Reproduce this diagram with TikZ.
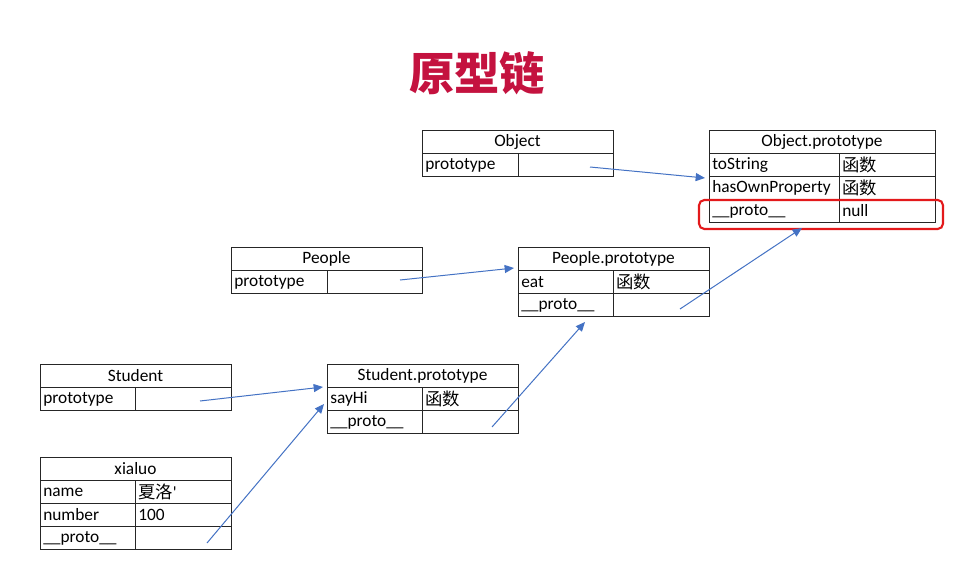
\documentclass[tikz,border=0pt]{standalone}
\usepackage{fontspec}
\setmainfont{Carlito}
\newfontfamily\cjk{Noto Sans CJK SC}
\usepackage{tikz}
\usetikzlibrary{arrows.meta}

\definecolor{titlered}{HTML}{C4123F}
\definecolor{ptrblue}{HTML}{4472C4}
\definecolor{boxred}{HTML}{E3191B}

\begin{document}
\begin{tikzpicture}[x=0.75pt, y=-0.75pt,
    tbl/.style={line width=0.6pt, draw=black!85},
    head/.style={inner sep=0pt, font=\fontsize{13}{15}\selectfont},
    key/.style={anchor=west, inner sep=0pt, font=\fontsize{13}{15}\selectfont},
    ptr/.style={draw=ptrblue, line width=0.75pt, -{Triangle[length=7pt,width=6pt]}}]
  \useasboundingbox[fill=white] (0,0) rectangle (966,560);
  \node[font=\cjk\bfseries\fontsize{34}{40}\selectfont, text=titlered] (title) at (477,73) {原型链};
  % Object
  \draw[tbl] (422,130) rectangle (613,176) (422,153) -- (613,153) (518,153) -- (518,176);
  \node[head] (obj) at (517.5,142) {Object};
  \node[key] (obj-key) at (425,165) {prototype};
  \coordinate (obj-val) at (590,167);
  % Object.prototype
  \draw[tbl] (709,130) rectangle (935,222) (839,153) -- (839,222);
  \foreach \y in {153,176,199} \draw[tbl] (709,\y) -- (935,\y);
  \node[head] (op) at (822,142) {Object.prototype};
  \node[key] (op-k1) at (712,165) {toString};
  \node[key] (op-v1) at (842,165) {\cjk 函数};
  \node[key] (op-k2) at (712,188) {hasOwnProperty};
  \node[key] (op-v2) at (842,188) {\cjk 函数};
  \node[key] (op-k3) at (712,211) {\_\_proto\_\_};
  \node[key] (op-v3) at (842,211) {null};
  \coordinate (op-in) at (705,178);
  \coordinate (op-in2) at (802,228);
  \draw[boxred, line width=1.6pt, rounded corners=4pt] (699,200) rectangle (943,229);
  % People
  \draw[tbl] (231,247) rectangle (422,293) (231,270) -- (422,270) (327,270) -- (327,293);
  \node[head] (peo) at (326.5,259) {People};
  \node[key] (peo-key) at (234,282) {prototype};
  \coordinate (peo-val) at (400,280);
  % People.prototype
  \draw[tbl] (518,247) rectangle (709,316) (613,270) -- (613,316);
  \foreach \y in {270,293} \draw[tbl] (518,\y) -- (709,\y);
  \node[head] (pp) at (613.5,259) {People.prototype};
  \node[key] (pp-k1) at (521,282) {eat};
  \node[key] (pp-v1) at (616,282) {\cjk 函数};
  \node[key] (pp-k2) at (521,305) {\_\_proto\_\_};
  \coordinate (pp-in) at (514,268);
  \coordinate (pp-in2) at (585,322);
  \coordinate (pp-proto) at (680,309);
  % Student
  \draw[tbl] (40,364) rectangle (231,410) (40,387) -- (231,387) (135,387) -- (135,410);
  \node[head] (stu) at (135.5,376) {Student};
  \node[key] (stu-key) at (43,399) {prototype};
  \coordinate (stu-val) at (200,401);
  % Student.prototype
  \draw[tbl] (327,364) rectangle (518,433) (422,387) -- (422,433);
  \foreach \y in {387,410} \draw[tbl] (327,\y) -- (518,\y);
  \node[head] (sp) at (422.5,376) {Student.prototype};
  \node[key] (sp-k1) at (330,399) {sayHi};
  \node[key] (sp-v1) at (425,399) {\cjk 函数};
  \node[key] (sp-k2) at (330,422) {\_\_proto\_\_};
  \coordinate (sp-in) at (323,387);
  \coordinate (sp-in2) at (324,404);
  \coordinate (sp-proto) at (492,427);
  % xialuo
  \draw[tbl] (40,457) rectangle (231,549) (135,480) -- (135,549);
  \foreach \y in {480,503,526} \draw[tbl] (40,\y) -- (231,\y);
  \node[head] (xia) at (135.5,469) {xialuo};
  \node[key] (xia-k1) at (43,492) {name};
  \node[key] (xia-v1) at (138,492) {\cjk 夏洛\fontspec{Carlito}'};
  \node[key] (xia-k2) at (43,515) {number};
  \node[key] (xia-v2) at (138,515) {100};
  \node[key] (xia-k3) at (43,538) {\_\_proto\_\_};
  \coordinate (xia-val) at (207,543);
  % pointers
  \draw[ptr] (obj-val) -- (op-in);
  \draw[ptr] (peo-val) -- (pp-in);
  \draw[ptr] (stu-val) -- (sp-in);
  \draw[ptr] (xia-val) -- (sp-in2);
  \draw[ptr] (sp-proto) -- (pp-in2);
  \draw[ptr] (pp-proto) -- (op-in2);
\end{tikzpicture}
\end{document}
